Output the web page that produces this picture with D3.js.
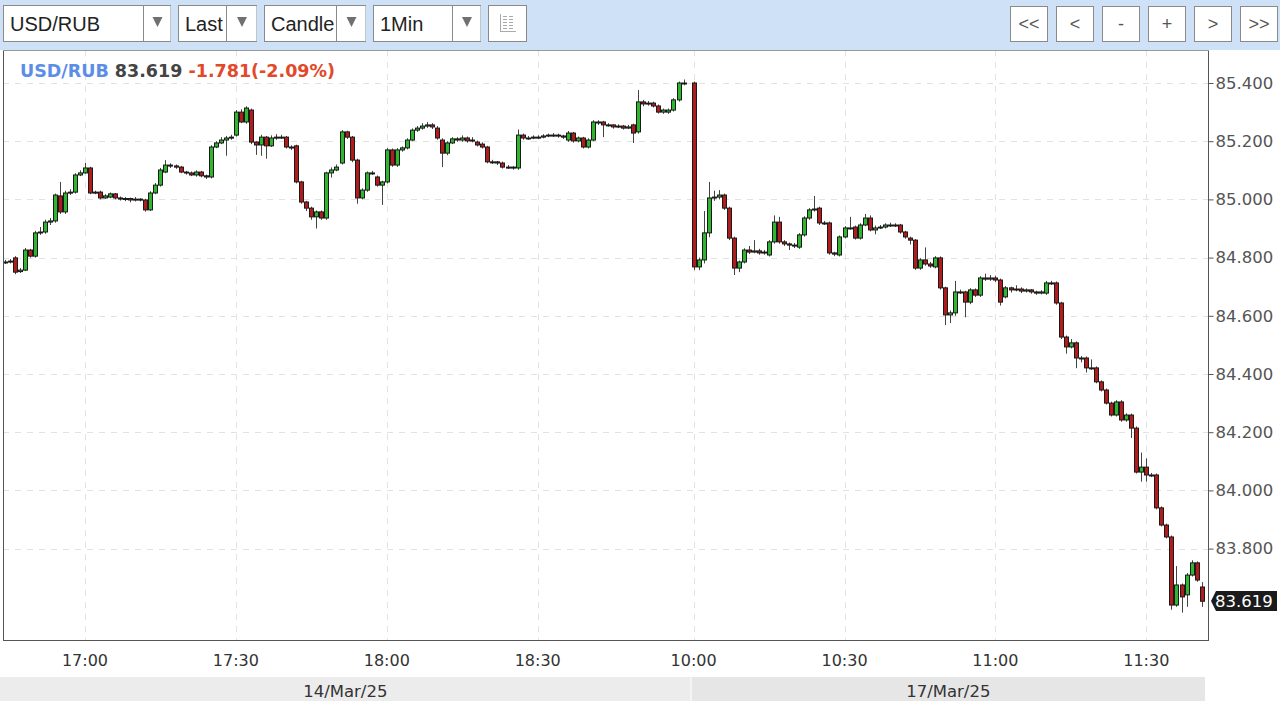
<!DOCTYPE html>
<html><head><meta charset="utf-8">
<script src="https://cdn.jsdelivr.net/npm/d3@7"></script>
<style>
html,body{margin:0;padding:0;background:#fff;}
svg{display:block;}
</style></head>
<body>
<svg id="chart" width="1280" height="701"></svg>
<script>
// ---------- DATA ----------
const symbol = "USD/RUB";
const lastPrice = "83.619";
const change = "-1.781(-2.09%)";
const sessions = [
  {date: "14/Mar/25", start: "16:44", count: 136},
  {date: "17/Mar/25", start: "10:00", count: 102}
];
const priceTicks = [83.8, 84.0, 84.2, 84.4, 84.6, 84.8, 85.0, 85.2, 85.4];
const timeTicks = ["17:00", "17:30", "18:00", "18:30", "10:00", "10:30", "11:00", "11:30"];
const toolbarLeft = ["USD/RUB", "Last", "Candle", "1Min"];
const toolbarRight = ["<<", "<", "-", "+", ">", ">>"];

const open = [
84.785,84.785,84.799,84.752,84.757,84.826,84.805,84.885,84.888,84.922,84.926,85.012,84.957,85.022,85.025,85.084,85.091,85.108,85.022,85.025,
85.005,85.008,85.019,85.005,85.001,85.003,84.998,85.001,84.998,84.964,85.022,85.049,85.094,85.118,85.115,85.111,85.094,85.091,85.084,85.094,
85.081,85.077,85.180,85.194,85.204,85.211,85.221,85.300,85.266,85.307,85.197,85.187,85.214,85.184,85.211,85.214,85.214,85.180,85.184,85.060,
84.991,84.970,84.940,84.957,84.936,85.091,85.101,85.125,85.232,85.214,85.135,85.005,85.032,85.091,85.077,85.049,85.060,85.170,85.118,85.170,
85.177,85.204,85.238,85.245,85.252,85.256,85.245,85.204,85.159,85.194,85.208,85.204,85.211,85.201,85.197,85.190,85.180,85.129,85.129,85.125,
85.111,85.111,85.108,85.221,85.211,85.211,85.214,85.214,85.218,85.221,85.221,85.218,85.204,85.228,85.201,85.211,85.180,85.204,85.266,85.266,
85.256,85.256,85.249,85.252,85.245,85.256,85.232,85.335,85.328,85.331,85.321,85.300,85.300,85.307,85.342,85.400,
85.400,84.768,84.792,84.885,85.005,85.008,85.015,84.970,84.867,84.764,84.785,84.826,84.819,84.823,84.816,84.809,84.854,84.922,84.854,84.847,
84.843,84.836,84.878,84.936,84.964,84.970,84.919,84.919,84.816,84.809,84.871,84.902,84.905,84.867,84.912,84.936,84.895,84.902,84.905,84.912,
84.912,84.912,84.888,84.867,84.860,84.764,84.792,84.778,84.768,84.799,84.696,84.603,84.610,84.682,84.682,84.647,84.689,84.671,84.730,84.726,
84.730,84.723,84.665,84.696,84.689,84.692,84.685,84.689,84.682,84.678,84.678,84.713,84.713,84.644,84.527,84.493,84.507,84.455,84.455,84.421,
84.421,84.373,84.345,84.300,84.259,84.304,84.242,84.259,84.214,84.063,84.080,84.053,84.053,83.940,83.881,83.840,83.606,83.675,83.641,83.709,
83.751,83.668
];
const high = [
84.792,84.795,84.805,84.764,84.833,84.830,84.892,84.905,84.930,84.936,85.020,85.060,85.030,85.035,85.090,85.100,85.125,85.112,85.030,85.030,
85.018,85.024,85.022,85.010,85.008,85.006,85.008,85.004,85.002,85.028,85.056,85.108,85.135,85.124,85.120,85.115,85.098,85.096,85.100,85.098,
85.085,85.186,85.200,85.214,85.218,85.222,85.307,85.310,85.320,85.312,85.200,85.222,85.218,85.220,85.224,85.222,85.218,85.186,85.188,85.064,
84.995,84.975,84.962,84.962,85.095,85.110,85.120,85.238,85.236,85.218,85.140,85.038,85.096,85.098,85.082,85.064,85.176,85.175,85.176,85.182,
85.210,85.244,85.252,85.262,85.266,85.262,85.252,85.210,85.200,85.214,85.214,85.220,85.216,85.214,85.202,85.196,85.184,85.136,85.132,85.130,
85.118,85.114,85.240,85.226,85.218,85.220,85.220,85.224,85.226,85.228,85.226,85.222,85.235,85.232,85.216,85.215,85.210,85.272,85.272,85.270,
85.262,85.258,85.258,85.256,85.256,85.260,85.376,85.342,85.338,85.336,85.326,85.312,85.312,85.348,85.405,85.412,
85.405,84.800,84.960,85.060,85.030,85.032,85.020,84.975,84.872,84.790,84.832,84.840,84.860,84.830,84.826,84.860,84.945,84.940,84.860,84.852,
84.850,84.884,84.942,84.970,85.012,84.975,84.926,84.924,84.820,84.876,84.908,84.940,84.910,84.918,84.950,84.945,84.910,84.912,84.918,84.920,
84.918,84.916,84.892,84.872,84.864,84.798,84.835,84.785,84.805,84.804,84.700,84.618,84.720,84.690,84.686,84.695,84.694,84.736,84.745,84.740,
84.738,84.728,84.702,84.700,84.705,84.698,84.694,84.692,84.686,84.688,84.720,84.720,84.718,84.648,84.532,84.520,84.512,84.462,84.460,84.450,
84.426,84.378,84.350,84.305,84.310,84.310,84.265,84.264,84.220,84.130,84.110,84.060,84.058,83.945,83.886,83.845,83.740,83.680,83.716,83.760,
83.756,83.685
];
const low = [
84.778,84.780,84.743,84.747,84.754,84.800,84.800,84.878,84.882,84.912,84.920,84.950,84.950,85.015,85.020,85.080,85.088,85.018,85.018,85.000,
85.002,85.004,85.000,84.996,84.994,84.990,84.993,84.993,84.958,84.960,85.018,85.044,85.090,85.108,85.105,85.090,85.085,85.080,85.078,85.076,
85.070,85.072,85.176,85.190,85.150,85.205,85.216,85.262,85.260,85.190,85.153,85.150,85.140,85.180,85.205,85.208,85.175,85.170,85.055,84.985,
84.960,84.930,84.900,84.930,84.930,85.075,85.097,85.120,85.208,85.128,84.985,85.000,85.026,85.084,85.044,84.981,85.055,85.112,85.112,85.164,
85.172,85.200,85.232,85.240,85.246,85.242,85.205,85.111,85.152,85.190,85.198,85.198,85.195,85.196,85.182,85.175,85.124,85.122,85.118,85.106,
85.105,85.102,85.102,85.205,85.205,85.207,85.208,85.210,85.214,85.215,85.212,85.208,85.198,85.195,85.196,85.175,85.175,85.200,85.256,85.214,
85.250,85.243,85.245,85.240,85.242,85.194,85.226,85.320,85.322,85.316,85.295,85.294,85.294,85.302,85.336,85.392,
84.757,84.757,84.780,84.870,84.995,85.000,84.964,84.860,84.740,84.750,84.780,84.812,84.815,84.810,84.810,84.804,84.848,84.848,84.840,84.826,
84.833,84.830,84.872,84.930,84.958,84.912,84.912,84.810,84.805,84.804,84.866,84.896,84.862,84.862,84.908,84.890,84.880,84.898,84.900,84.905,
84.905,84.882,84.865,84.845,84.758,84.758,84.772,84.765,84.763,84.690,84.568,84.575,84.600,84.675,84.595,84.640,84.665,84.665,84.720,84.720,
84.716,84.635,84.660,84.680,84.684,84.678,84.680,84.676,84.672,84.674,84.672,84.706,84.638,84.520,84.470,84.488,84.420,84.440,84.405,84.414,
84.368,84.340,84.295,84.254,84.254,84.236,84.236,84.180,84.058,84.030,84.030,84.046,83.935,83.876,83.835,83.590,83.600,83.580,83.600,83.704,
83.686,83.600
];
const close = [
84.785,84.788,84.750,84.757,84.826,84.805,84.885,84.888,84.922,84.926,85.015,84.957,85.022,85.025,85.084,85.091,85.108,85.022,85.025,85.005,
85.012,85.019,85.005,85.001,85.003,84.998,85.001,84.998,84.964,85.022,85.049,85.101,85.118,85.115,85.111,85.094,85.091,85.084,85.094,85.081,
85.077,85.180,85.194,85.204,85.211,85.214,85.300,85.266,85.314,85.197,85.187,85.214,85.184,85.211,85.214,85.214,85.180,85.177,85.060,84.991,
84.970,84.940,84.957,84.936,85.091,85.101,85.111,85.232,85.214,85.135,85.005,85.032,85.091,85.091,85.049,85.060,85.170,85.118,85.170,85.177,
85.204,85.238,85.245,85.252,85.256,85.249,85.211,85.159,85.194,85.208,85.204,85.211,85.201,85.204,85.187,85.180,85.129,85.129,85.125,85.111,
85.111,85.108,85.221,85.211,85.211,85.214,85.214,85.218,85.221,85.221,85.218,85.214,85.228,85.201,85.211,85.180,85.204,85.266,85.263,85.256,
85.256,85.249,85.252,85.245,85.249,85.228,85.335,85.328,85.331,85.321,85.300,85.307,85.307,85.342,85.400,85.398,
84.768,84.792,84.885,85.005,85.008,85.015,84.970,84.867,84.764,84.785,84.826,84.819,84.823,84.816,84.819,84.854,84.922,84.854,84.847,84.843,
84.840,84.878,84.936,84.964,84.967,84.919,84.919,84.816,84.812,84.871,84.902,84.902,84.867,84.912,84.936,84.895,84.902,84.905,84.912,84.912,
84.912,84.888,84.871,84.860,84.764,84.792,84.778,84.771,84.799,84.696,84.603,84.610,84.682,84.682,84.647,84.689,84.671,84.730,84.726,84.730,
84.723,84.647,84.696,84.689,84.692,84.685,84.689,84.682,84.678,84.682,84.713,84.713,84.644,84.527,84.493,84.507,84.455,84.452,84.421,84.421,
84.373,84.345,84.300,84.259,84.304,84.242,84.259,84.214,84.063,84.080,84.053,84.053,83.940,83.881,83.840,83.606,83.675,83.634,83.709,83.751,
83.692,83.619
];

// ---------- BUILD ----------
const svg = d3.select("#chart");
const W = 1280, H = 701;
const plot = {left: 3, right: 1208, top: 50, bottom: 640};

// category slots (one empty slot between sessions)
const slots = [];
let s = 0;
sessions.forEach((ses, si) => {
  const [hh, mm] = ses.start.split(":").map(Number);
  ses.firstSlot = s;
  for (let k = 0; k < ses.count; k++) {
    const t = hh * 60 + mm + k;
    const lbl = String(Math.floor(t / 60)).padStart(2, "0") + ":" + String(t % 60).padStart(2, "0");
    slots.push({slot: s, time: lbl, session: si});
    s++;
  }
  ses.lastSlot = s - 1;
  s++; // gap
});
const candles = slots.map((d, i) => ({...d, o: open[i], h: high[i], l: low[i], c: close[i]}));

const x = d3.scaleLinear().domain([0, 240]).range([4.5, 4.5 + 240 * 5.03]);
const y = d3.scaleLinear().domain([83.6, 85.4]).range([606.8, 83]);

// page backgrounds
svg.append("rect").attr("x", 0).attr("y", 0).attr("width", W).attr("height", H).attr("fill", "#ffffff");
svg.append("rect").attr("x", 0).attr("y", 0).attr("width", W).attr("height", 50).attr("fill", "#cfe1f6");

// plot area
svg.append("rect").attr("x", plot.left).attr("y", plot.top).attr("width", plot.right - plot.left).attr("height", plot.bottom - plot.top).attr("fill", "#ffffff");

const clip = svg.append("defs").append("clipPath").attr("id", "pclip");
clip.append("rect").attr("x", plot.left).attr("y", plot.top).attr("width", plot.right - plot.left).attr("height", plot.bottom - plot.top);

// grid lines
const grid = svg.append("g").attr("clip-path", "url(#pclip)");
grid.selectAll("line.hg").data(priceTicks).join("line")
  .attr("x1", plot.left).attr("x2", plot.right)
  .attr("y1", d => Math.round(y(d)) + 0.5).attr("y2", d => Math.round(y(d)) + 0.5)
  .attr("stroke", "#e2e2e2").attr("stroke-dasharray", "6,6");
const tickSlots = timeTicks.map((t, i) => {
  const ses = i < 4 ? 0 : 1;
  return candles.find(c => c.time === t && c.session === ses).slot;
});
grid.selectAll("line.vg").data(tickSlots).join("line")
  .attr("y1", plot.top).attr("y2", plot.bottom)
  .attr("x1", d => Math.round(x(d)) + 0.5).attr("x2", d => Math.round(x(d)) + 0.5)
  .attr("stroke", "#e2e2e2").attr("stroke-dasharray", "6,6");

// candles
const cg = svg.append("g").attr("clip-path", "url(#pclip)");
cg.selectAll("line.wick").data(candles).join("line")
  .attr("x1", d => Math.round(x(d.slot)) + 0.5).attr("x2", d => Math.round(x(d.slot)) + 0.5)
  .attr("y1", d => y(d.h)).attr("y2", d => y(d.l))
  .attr("stroke", "#444").attr("stroke-width", 1);
cg.selectAll("rect.body").data(candles).join("rect")
  .attr("x", d => Math.round(x(d.slot)) - 1.5)
  .attr("width", 4)
  .attr("y", d => y(Math.max(d.o, d.c)))
  .attr("height", d => Math.max(1, Math.abs(y(d.o) - y(d.c))))
  .attr("fill", d => d.c >= d.o ? "#2fb52f" : "#b01c1c")
  .attr("stroke", "#1a1a1a").attr("stroke-width", 1);

// frame
svg.append("line").attr("x1", plot.left + 0.5).attr("x2", plot.left + 0.5).attr("y1", plot.top).attr("y2", plot.bottom).attr("stroke", "#555");
svg.append("line").attr("x1", plot.right + 0.5).attr("x2", plot.right + 0.5).attr("y1", plot.top).attr("y2", plot.bottom).attr("stroke", "#555");
svg.append("line").attr("x1", plot.left).attr("x2", plot.right + 1).attr("y1", plot.bottom + 0.5).attr("y2", plot.bottom + 0.5).attr("stroke", "#555");
svg.append("line").attr("x1", plot.left).attr("x2", plot.right + 1).attr("y1", plot.top + 0.5).attr("y2", plot.top + 0.5).attr("stroke", "#999");

// y axis
const yAxis = d3.axisRight(y).tickValues(priceTicks).tickFormat(d3.format(".3f")).tickSize(5).tickPadding(2);
const ya = svg.append("g").attr("transform", `translate(${plot.right + 0.5},0)`).call(yAxis);
ya.select(".domain").remove();
ya.selectAll("line").attr("stroke", "#555");
ya.selectAll("text").attr("font-family", "DejaVu Sans").attr("font-size", 16.5).attr("fill", "#555");

// x axis labels
const xa = svg.append("g");
xa.selectAll("text").data(timeTicks).join("text")
  .attr("x", (d, i) => x(tickSlots[i])).attr("y", 666)
  .attr("text-anchor", "middle").attr("font-family", "DejaVu Sans").attr("font-size", 16).attr("fill", "#333")
  .text(d => d);

// date band
sessions.forEach((ses, i) => {
  const x0 = i === 0 ? 0 : (x(ses.firstSlot) - 2);
  const x1 = i === sessions.length - 1 ? 1205 : (x(ses.lastSlot + 1) + 2);
  svg.append("rect").attr("x", x0).attr("y", 677).attr("width", x1 - x0).attr("height", 24)
    .attr("fill", i === 0 ? "#ececec" : "#e6e6e6");
  svg.append("text").attr("x", (Math.max(x0, 0) + x1) / 2).attr("y", 697)
    .attr("text-anchor", "middle").attr("font-family", "DejaVu Sans").attr("font-size", 16.5).attr("fill", "#333")
    .text(ses.date);
});

// last price marker
const lastY = Math.round(y(close[close.length - 1]));
const lp = svg.append("g");
lp.append("path")
  .attr("d", `M${plot.right + 3},${lastY} L${plot.right + 8},${lastY - 10} L1277,${lastY - 10} L1277,${lastY + 10} L${plot.right + 8},${lastY + 10} Z`)
  .attr("fill", "#1b1b1b");
lp.append("text").attr("x", 1215).attr("y", lastY + 6).attr("font-family", "DejaVu Sans").attr("font-size", 16.5).attr("fill", "#fff").text(lastPrice);

// header legend
const hd = svg.append("text").attr("x", 20).attr("y", 77).attr("font-family", "DejaVu Sans").attr("font-weight", "bold").attr("font-size", 17.5);
hd.append("tspan").attr("fill", "#5c8ee8").text(symbol);
hd.append("tspan").attr("fill", "#444").text(" " + lastPrice);
hd.append("tspan").attr("fill", "#e2482a").text(" " + change);

// toolbar
const tb = svg.append("g").attr("font-family", "Liberation Sans, Arial, sans-serif");
const boxes = [
  {x: 3, w: 167, div: 143},
  {x: 178, w: 78, div: 226},
  {x: 264, w: 101, div: 336},
  {x: 373, w: 107, div: 452}
];
boxes.forEach((b, i) => {
  tb.append("rect").attr("x", b.x + 0.5).attr("y", 5.5).attr("width", b.w).attr("height", 36).attr("fill", "#fff").attr("stroke", "#8a8a8a");
  tb.append("text").attr("x", b.x + 7).attr("y", 31).attr("font-size", 20).attr("fill", "#222").text(toolbarLeft[i]);
});
boxes.forEach(b => {
  tb.append("rect").attr("x", b.div + 1).attr("y", 6).attr("width", b.x + b.w - b.div - 0.5).attr("height", 35).attr("fill", "#fff");
  tb.append("line").attr("x1", b.div + 0.5).attr("x2", b.div + 0.5).attr("y1", 6).attr("y2", 41).attr("stroke", "#8a8a8a");
  const cx = (b.div + b.x + b.w) / 2 + 1;
  tb.append("path").attr("d", `M${cx - 5},17 L${cx + 5},17 L${cx},27 Z`).attr("fill", "#707070");
});
// grid icon button
tb.append("rect").attr("x", 488.5).attr("y", 5.5).attr("width", 38).attr("height", 36).attr("fill", "#fff").attr("stroke", "#8a8a8a");
const ic = tb.append("g").attr("stroke", "#aaa").attr("stroke-width", 1);
ic.append("line").attr("x1", 500.5).attr("x2", 500.5).attr("y1", 14).attr("y2", 32);
ic.append("line").attr("x1", 500).attr("x2", 516).attr("y1", 31.5).attr("y2", 31.5);
[16, 19, 22, 25, 28].forEach(yy => {
  ic.append("line").attr("x1", 503).attr("x2", 507).attr("y1", yy + 0.5).attr("y2", yy + 0.5);
  ic.append("line").attr("x1", 509).attr("x2", 513).attr("y1", yy + 0.5).attr("y2", yy + 0.5);
});
// right buttons
toolbarRight.forEach((t, i) => {
  const bx = 1010 + i * 46;
  tb.append("rect").attr("x", bx + 0.5).attr("y", 6.5).attr("width", 37).attr("height", 35).attr("fill", "#fff").attr("stroke", "#8a8a8a");
  tb.append("text").attr("x", bx + 19).attr("y", 30).attr("text-anchor", "middle").attr("font-size", 18).attr("fill", "#555").text(t);
});
</script>
</body></html>
